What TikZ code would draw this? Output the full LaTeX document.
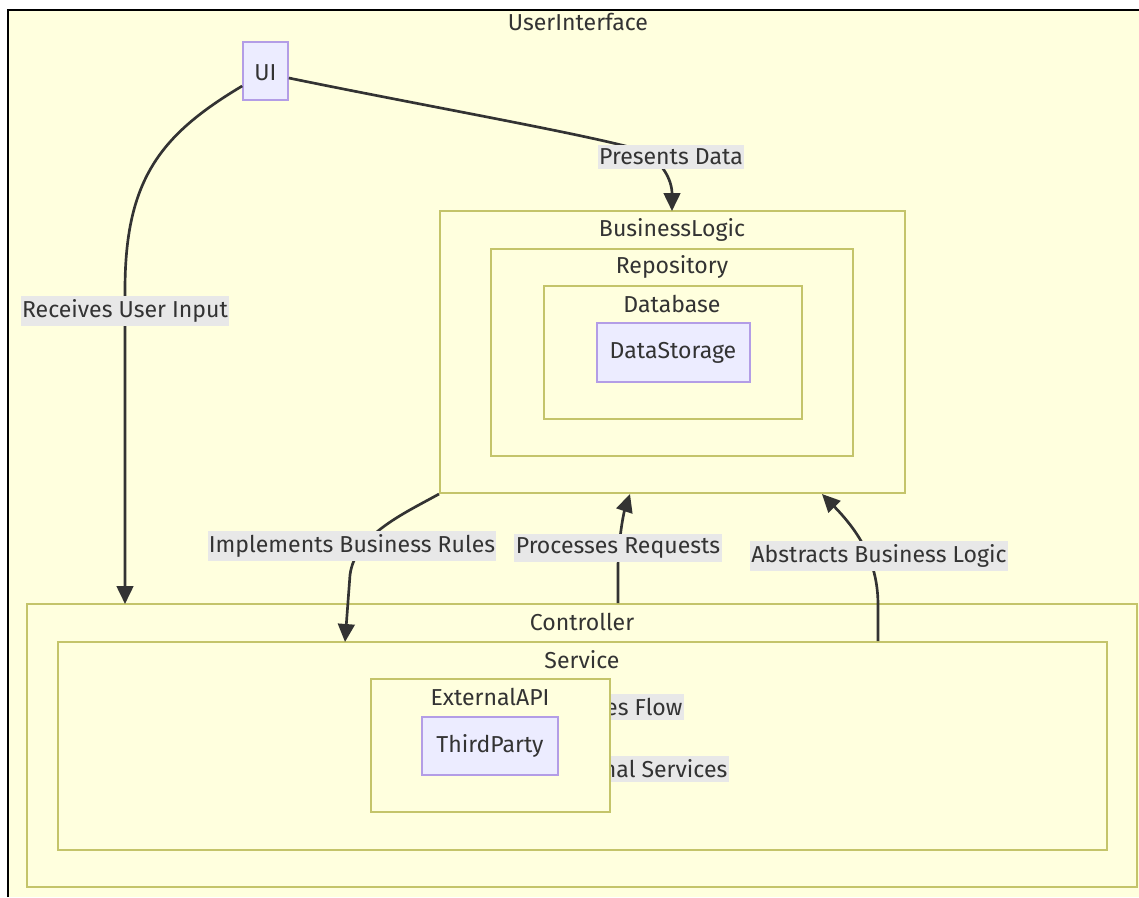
\documentclass[tikz,border=0pt]{standalone}
\usepackage{fontspec}
\setmainfont{Fira Sans}
\usetikzlibrary{arrows.meta,fit}
\definecolor{clfill}{HTML}{FFFFDE}
\definecolor{clline}{HTML}{C4C46A}
\definecolor{ndfill}{HTML}{ECECFF}
\definecolor{ndline}{HTML}{B39DE6}
\definecolor{txt}{HTML}{333333}
\definecolor{lblbg}{HTML}{E8E8E8}
\tikzset{
  cl/.style={draw=clline, line width=1.5pt, fill=clfill, inner sep=0pt},
  nd/.style={draw=ndline, line width=1.2pt, fill=ndfill, inner sep=0pt, text=txt},
  ttl/.style={text=txt, font=\fontsize{17.3}{20}\selectfont, inner sep=0pt},
  lbl/.style={fill=lblbg, text=txt, font=\fontsize{17.3}{20}\selectfont, inner xsep=1pt, inner ysep=3pt},
  edge/.style={draw=txt, line width=2pt, -{Triangle[length=13.5pt,width=12.5pt]}}
}
\begin{document}
\begin{tikzpicture}[x=0.75pt, y=-0.75pt]
\useasboundingbox (0,0) rectangle (1139,897);
% outer UserInterface frame
\fill[clfill] (8,10) rectangle (1139,897);
\draw[black, line width=1.6pt] (8,897) -- (8,10) -- (1139,10);
\node[ttl] (tUI) at (578,22) {UserInterface};

% clusters
\node[cl, fit={(440,211)(905,493)}] (bl) {};
\node[ttl] (tbl) at (672,230) {BusinessLogic};
\node[cl, fit={(491,249)(853,456)}] (repo) {};
\node[ttl] (trepo) at (672,267) {Repository};
\node[cl, fit={(544,286)(802,419)}] (db) {};
\node[ttl] (tdb) at (672,304) {Database};
\node[nd, fit={(597,323)(750,382)}] (ds) {};
\node[ttl] (tds) at (673,353) {DataStorage};

\node[cl, fit={(27,604)(1137,887)}] (ctrl) {};
\node[ttl] (tctrl) at (582,622) {Controller};
\node[cl, fit={(58,642)(1107,850)}] (svc) {};
\node[ttl] (tsvc) at (582,660) {Service};

% partly hidden labels (behind ExternalAPI)
\node[lbl, anchor=east] (l6) at (684,707) {es Flow};
\node[lbl, anchor=east] (l7) at (729,769) {nal Services};

\node[cl, fit={(371,679)(610,812)}] (ext) {};
\node[ttl] (text) at (490,697) {ExternalAPI};
\node[nd, fit={(422,717)(558,775)}] (tp) {};
\node[ttl] (ttp) at (490,746) {ThirdParty};

% UI node
\node[nd, fit={(243,42)(288,100)}] (ui) {};
\node[ttl] (tui) at (265.5,73) {UI};

% edge targets
\coordinate (c1) at (125,604);
\coordinate (c2) at (672,211);
\coordinate (c3) at (345,642);
\coordinate (c4) at (630,494);
\coordinate (c5) at (822,494);

% edges
\draw[edge] (ui.west |- 0,86) .. controls (160,135) and (125,180) .. (125,290) -- (c1);
\draw[edge] (ui.east |- 0,78) .. controls (420,105) and (590,135) .. (640,150) .. controls (662,160) and (672,180) .. (c2);
\draw[edge] (bl.south west) .. controls (405,513) and (355,535) .. (350,575) -- (c3);
\draw[edge] (ctrl.north -| 618,0) -- (618,565) .. controls (619,535) and (624,512) .. (c4);
\draw[edge] (svc.north -| 878,0) -- (878,605) .. controls (878,565) and (862,535) .. (c5);

% edge labels
\node[lbl] (l1) at (125,311) {Receives User Input};
\node[lbl] (l2) at (671,157) {Presents Data};
\node[lbl] (l3) at (352,546) {Implements Business Rules};
\node[lbl] (l4) at (618,548) {Processes Requests};
\node[lbl] (l5) at (879,556) {Abstracts Business Logic};
\end{tikzpicture}
\end{document}
